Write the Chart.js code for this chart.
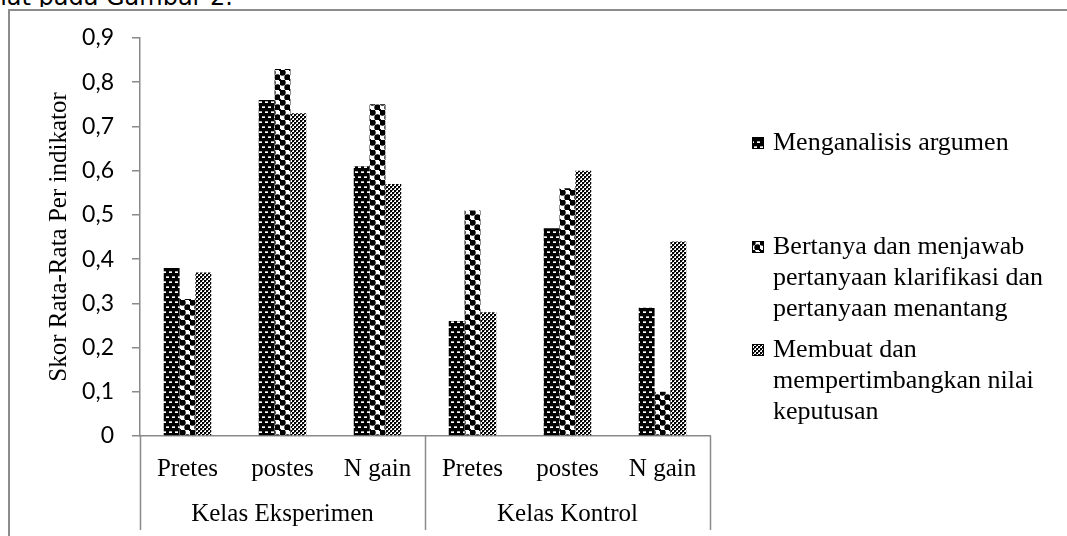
<!DOCTYPE html>
<html>
<head>
<meta charset="utf-8">
<script src="https://cdn.jsdelivr.net/npm/chart.js@4.4.1/dist/chart.umd.min.js"></script>
<style>
  html, body { margin: 0; padding: 0; background: #fff; overflow: hidden; }
  #caption { position: absolute; left: 0; top: 0; width: 233px; height: 7px; overflow: hidden; }
  #caption span { position: absolute; right: 0; top: -15px; font: 24px "DejaVu Sans"; line-height: 24px; white-space: nowrap; color: #000; }
  #frame { position: absolute; left: 8px; top: 9px; width: 1200px; height: 600px; border-left: 2px solid #8c8c8c; border-top: 2px solid #8c8c8c; }
  #wrap { position: absolute; left: 0; top: 0; width: 1067px; height: 536px; }
</style>
</head>
<body>
<div id="caption"><span>dapat dilihat pada Gambar 2.</span></div>
<div id="frame"></div>
<div id="wrap"><canvas id="chart"></canvas></div>
<script>
// data
const categories = ['Pretes', 'postes', 'N gain', 'Pretes', 'postes', 'N gain'];
const groups = ['Kelas Eksperimen', 'Kelas Kontrol'];
const menganalisis = [0.38, 0.76, 0.61, 0.26, 0.47, 0.29];
const bertanya = [0.31, 0.83, 0.75, 0.51, 0.56, 0.10];
const membuat = [0.37, 0.73, 0.57, 0.28, 0.60, 0.44];
const seriesNames = [
    ['Menganalisis argumen'],
    ['Bertanya dan menjawab', 'pertanyaan klarifikasi dan', 'pertanyaan menantang'],
    ['Membuat dan', 'mempertimbangkan nilai', 'keputusan']
];
const yTitle = 'Skor Rata-Rata Per indikator';

const serif = '"Liberation Serif", "Times New Roman", serif';
const axisGray = '#8a8a8a';

const canvas = document.getElementById('chart');
const ctx = canvas.getContext('2d');

function makePattern(w, h, draw) {
    const c = document.createElement('canvas');
    c.width = w;
    c.height = h;
    const g = c.getContext('2d');
    draw(g);
    return ctx.createPattern(c, 'repeat');
}

// staggered white dashes on black
const patBrick = makePattern(6, 10, g => {
    g.fillStyle = '#000';
    g.fillRect(0, 0, 6, 10);
    g.fillStyle = '#fff';
    g.fillRect(1, 2, 3, 1);
    g.fillRect(4, 7, 2, 1);
    g.fillRect(0, 7, 1, 1);
    g.fillStyle = '#aaa';
    g.fillRect(1, 1, 3, 1);
    g.fillRect(4, 6, 2, 1);
    g.fillRect(0, 6, 1, 1);
});

// black balls on a checkerboard
const patBalls = makePattern(10, 10, g => {
    g.fillStyle = '#fff';
    g.fillRect(0, 0, 10, 10);
    g.fillStyle = '#000';
    g.beginPath();
    g.arc(2.5, 2.5, 3.2, 0, Math.PI * 2);
    g.fill();
    g.beginPath();
    g.arc(7.5, 7.5, 3.2, 0, Math.PI * 2);
    g.fill();
    g.fillRect(0, 9, 1, 1);
    g.fillRect(9, 0, 1, 1);
});

// small checker weave
const patFine = makePattern(4, 4, g => {
    g.fillStyle = '#fff';
    g.fillRect(0, 0, 4, 4);
    g.fillStyle = '#000';
    g.fillRect(0, 0, 2, 2);
    g.fillRect(2, 2, 2, 2);
    g.fillStyle = '#666';
    g.fillRect(2, 0, 1, 1);
    g.fillRect(0, 2, 1, 1);
});

const patterns = [patBrick, patBalls, patFine];

const groupPlugin = {
    id: 'groupPlugin',
    afterDraw(chart) {
        const x = chart.scales.x;
        const c = chart.ctx;
        const top = x.top;
        const edges = [x.left, (x.getPixelForValue(2) + x.getPixelForValue(3)) / 2, x.right];
        c.save();
        c.strokeStyle = axisGray;
        c.lineWidth = 1.5;
        edges.forEach(e => {
            c.beginPath();
            c.moveTo(Math.round(e) + 0.5, top);
            c.lineTo(Math.round(e) + 0.5, 530);
            c.stroke();
        });
        c.fillStyle = '#000';
        c.font = '25px ' + serif;
        c.textAlign = 'center';
        c.textBaseline = 'middle';
        groups.forEach((g, i) => {
            c.fillText(g, (edges[i] + edges[i + 1]) / 2, 514);
        });

        // legend
        const lineY = [[143], [247, 278, 309], [350, 381, 412]];
        c.font = '26px ' + serif;
        c.textAlign = 'left';
        seriesNames.forEach((lines, i) => {
            const y0 = lineY[i][0];
            c.fillStyle = patterns[i];
            c.fillRect(752, y0 - 6, 12, 12);
            c.strokeStyle = '#000';
            c.lineWidth = 1;
            c.strokeRect(752.5, y0 - 5.5, 11, 11);
            c.fillStyle = '#000';
            lines.forEach((t, j) => c.fillText(t, 773, lineY[i][j]));
        });
        c.restore();
    }
};

new Chart(canvas, {
    type: 'bar',
    data: {
        labels: categories,
        datasets: [
            { label: seriesNames[0].join(' '), data: menganalisis, backgroundColor: patterns[0], borderWidth: 0 },
            { label: seriesNames[1].join(' '), data: bertanya, backgroundColor: patterns[1], borderWidth: 0 },
            { label: seriesNames[2].join(' '), data: membuat, backgroundColor: patterns[2], borderWidth: 0 }
        ]
    },
    options: {
        responsive: true,
        maintainAspectRatio: false,
        animation: false,
        devicePixelRatio: 1,
        layout: { padding: { left: 40, top: 38, right: 357, bottom: 0 } },
        datasets: { bar: { categoryPercentage: 0.5, barPercentage: 1 } },
        plugins: {
            legend: { display: false },
            tooltip: { enabled: false }
        },
        scales: {
            x: {
                grid: { display: true, drawOnChartArea: false, drawTicks: false, color: 'transparent' },
                border: { display: true, color: axisGray, width: 1.5 },
                ticks: { color: '#000', font: { family: serif, size: 25 }, padding: 18, maxRotation: 0, autoSkip: false },
                afterFit: s => { s.height = 100; }
            },
            y: {
                min: 0,
                max: 0.9,
                grid: { drawOnChartArea: false, drawTicks: true, tickLength: 8, color: axisGray, lineWidth: 1.5 },
                border: { display: true, color: axisGray, width: 1.5 },
                ticks: {
                    stepSize: 0.1,
                    color: '#000',
                    padding: 18,
                    font: { family: 'Lato, "Open Sans", sans-serif', size: 23 },
                    callback: v => v === 0 ? '0' : v.toFixed(1).replace('.', ',')
                },
                title: {
                    display: true,
                    text: yTitle,
                    color: '#000',
                    font: { family: serif, size: 25 },
                    padding: { top: 4, bottom: 4 }
                },
                afterFit: s => { s.width = 100; }
            }
        }
    },
    plugins: [groupPlugin]
});
</script>
</body>
</html>
